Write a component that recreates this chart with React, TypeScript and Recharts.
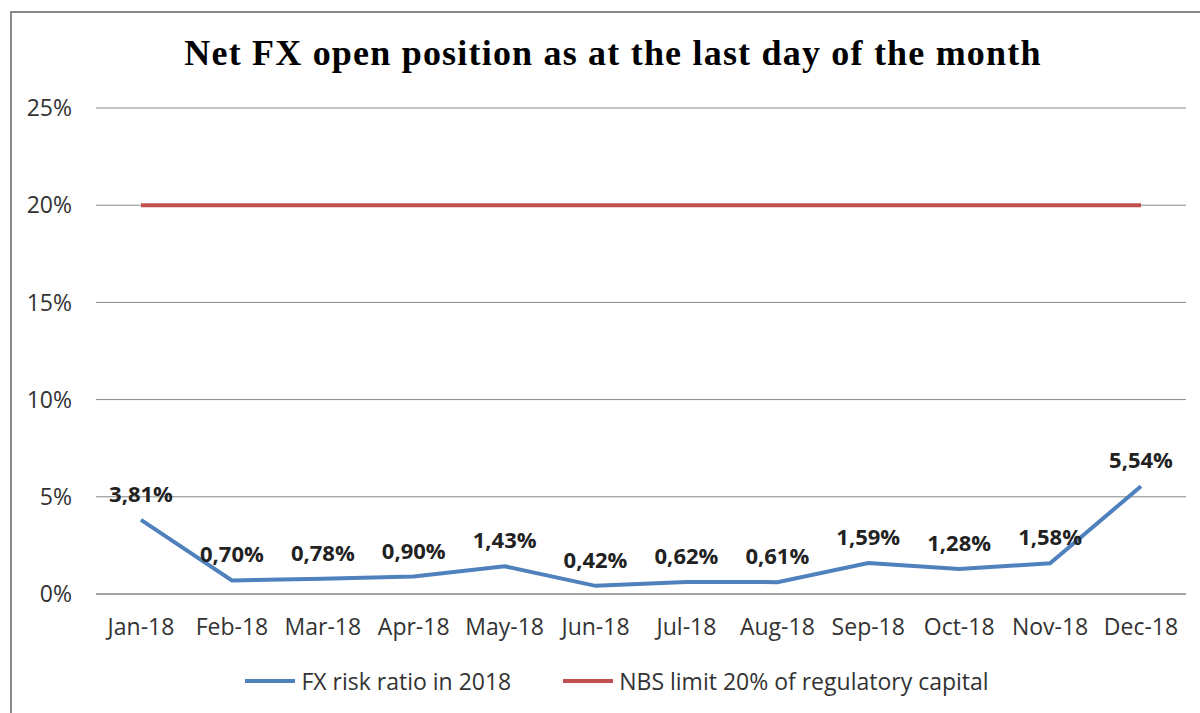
import React from "react";
import {
  CartesianGrid,
  LabelList,
  Line,
  LineChart,
  XAxis,
  YAxis,
} from "recharts";

const months = [
  "Jan-18",
  "Feb-18",
  "Mar-18",
  "Apr-18",
  "May-18",
  "Jun-18",
  "Jul-18",
  "Aug-18",
  "Sep-18",
  "Oct-18",
  "Nov-18",
  "Dec-18",
];
const fxRatio = [3.81, 0.7, 0.78, 0.9, 1.43, 0.42, 0.62, 0.61, 1.59, 1.28, 1.58, 5.54];
const nbsLimit = [20, 20, 20, 20, 20, 20, 20, 20, 20, 20, 20, 20];
const yTicks = [0, 5, 10, 15, 20, 25];

const BLUE = "#4f81bd";
const RED = "#c0504d";
const FONT = "'Open Sans', sans-serif";

const data = months.map((m, i) => ({
  name: m,
  fx: fxRatio[i],
  limit: nbsLimit[i],
}));

const legendItems = [
  { label: "FX risk ratio in 2018", color: BLUE },
  { label: "NBS limit 20% of regulatory capital", color: RED },
];

const App = () => {
  return (
    <div
      style={{
        position: "absolute",
        left: 10,
        top: 11,
        width: 1220,
        height: 730,
        border: "2px solid #8a8a8a",
        background: "#fff",
      }}
    >
      <div
        style={{
          position: "absolute",
          left: 8,
          width: 1186,
          top: 19,
          textAlign: "center",
          fontFamily: "'Liberation Serif', serif",
          fontWeight: "bold",
          fontSize: 36,
          letterSpacing: 1.2,
          color: "#000",
        }}
      >
        Net FX open position as at the last day of the month
      </div>
      <LineChart
        width={1186}
        height={700}
        data={data}
        margin={{ top: 95, right: 12, left: 0, bottom: 89 }}
      >
        <CartesianGrid vertical={false} stroke="#878787" strokeWidth={1} />
        <XAxis
          dataKey="name"
          padding={{ left: 45, right: 45 }}
          tickLine={false}
          axisLine={{ stroke: "#878787" }}
          tickSize={0}
          tickMargin={25}
          interval={0}
          tick={{ fontFamily: FONT, fontSize: 23, fill: "#333" }}
        />
        <YAxis
          width={84}
          domain={[0, 25]}
          ticks={yTicks}
          tickFormatter={(v) => `${v}%`}
          axisLine={false}
          tickLine={false}
          tickSize={0}
          tickMargin={24}
          tick={{ fontFamily: FONT, fontSize: 23, fill: "#333" }}
        />
        <Line
          dataKey="limit"
          stroke={RED}
          strokeWidth={4}
          dot={false}
          isAnimationActive={false}
          type="linear"
        />
        <Line
          dataKey="fx"
          stroke={BLUE}
          strokeWidth={4}
          dot={false}
          isAnimationActive={false}
          type="linear"
        >
          <LabelList
            dataKey="fx"
            position="top"
            offset={18}
            formatter={(v: number) => v.toFixed(2).replace(".", ",") + "%"}
            style={{
              fontFamily: FONT,
              fontSize: 22,
              fontWeight: "bold",
              fill: "#222",
            }}
          />
        </Line>
      </LineChart>
      <div
        style={{
          position: "absolute",
          top: 652,
          left: 12,
          width: 1186,
          display: "flex",
          justifyContent: "center",
          gap: 52,
          fontFamily: FONT,
          fontSize: 23,
          color: "#333",
        }}
      >
        {legendItems.map((it) => (
          <div key={it.label} style={{ display: "flex", alignItems: "center" }}>
            <svg width={50} height={10} style={{ marginRight: 6 }}>
              <line x1={0} y1={5} x2={50} y2={5} stroke={it.color} strokeWidth={4} />
            </svg>
            <span>{it.label}</span>
          </div>
        ))}
      </div>
    </div>
  );
};

export default App;
